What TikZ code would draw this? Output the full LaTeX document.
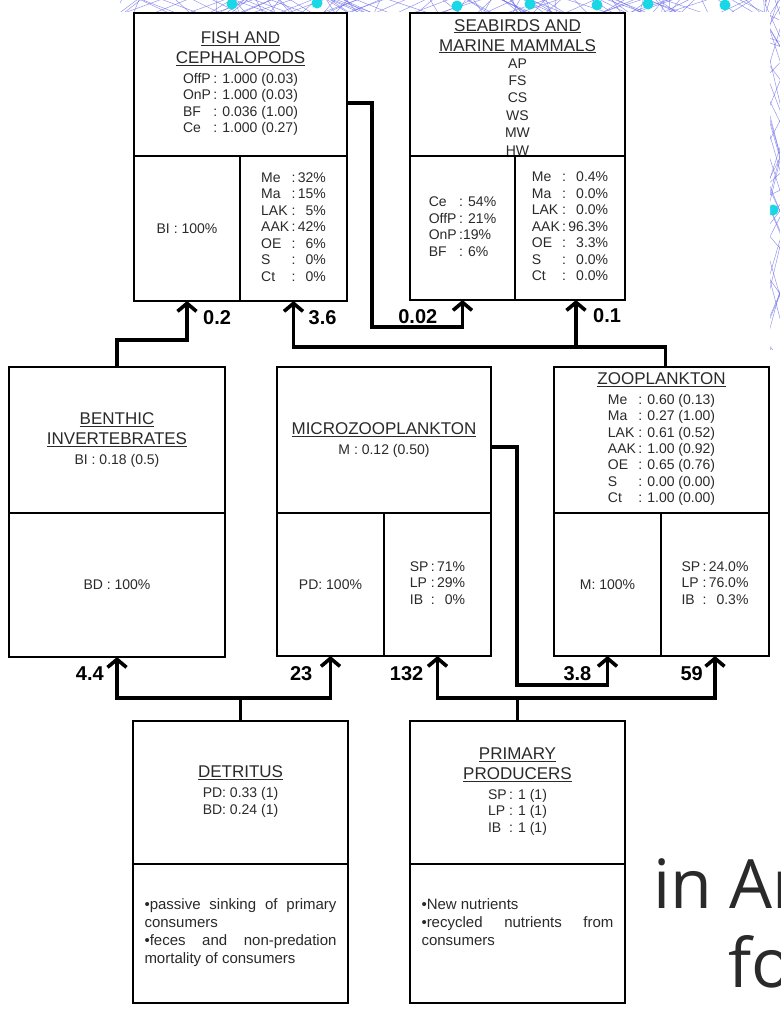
\documentclass[tikz,border=0pt]{standalone}
\usepackage{fontspec}
\setmainfont{Liberation Sans}
\newfontfamily\slidefont{Open Sans}
\usetikzlibrary{arrows.meta,positioning}
\definecolor{netblue}{HTML}{6A6AE6}
\definecolor{netcyan}{HTML}{19D8E6}
\definecolor{inkgray}{HTML}{2A2A2A}
\newcommand{\ttl}[1]{\underline{#1}}
\newcommand{\dat}{\fontsize{14}{16.5}\selectfont}
\tikzset{
  cell/.style={draw=black,line width=1.6pt,inner sep=0pt,outer sep=0pt,align=center,anchor=north west,text=inkgray,font=\fontsize{17}{20}\selectfont},
  celltxt/.style={inner sep=0pt,align=center,text=inkgray,font=\fontsize{17}{20}\selectfont},
  note/.style={text width=192pt,align=justify,inner sep=0pt,text=inkgray,font=\fontsize{15}{18}\selectfont},
  ar/.style={-{Straight Barb[length=8pt,width=19pt]},line width=3.6pt},
  flow/.style={inner sep=0pt,text=black,font=\fontsize{20}{20}\selectfont\bfseries},
  net/.style={draw=netblue,line width=0.5pt,opacity=0.7},
  netdot/.style={fill=netcyan,draw=none},
  slidetxt/.style={inner sep=0pt,text=inkgray,font=\slidefont\fontsize{68}{80}\selectfont},
}
\begin{document}
\begin{tikzpicture}[x=1pt,y=-1pt,node distance=0pt]
  \clip (0,0) rectangle (780,1015);
  \useasboundingbox (0,0) rectangle (780,1015);
  % network behind the slide
  \pgfmathsetseed{11}
  \begin{scope}
    \clip (120,0) rectangle (780,12) (770,0) rectangle (780,350);
    \foreach \i in {1,...,130}{
      \pgfmathsetmacro\xa{120+660*rnd}
      \pgfmathsetmacro\xb{\xa+80*rand}
      \draw[net] (\xa,-5) -- (\xb,20);
    }
    \foreach \i in {1,...,50}{
      \pgfmathsetmacro\ya{350*rnd}
      \pgfmathsetmacro\yb{\ya+90*rand}
      \draw[net] (765,\ya) -- (785,\yb);
    }
  \end{scope}
  \foreach \x/\y in {232/4,317/3,457/6,530/4,597/5,648/4,725/5,773/210}
    \fill[netdot] (\x,\y) circle (5.5pt);
  \fill[white] (0,12) -- (770,12) -- (770,350) -- (780,350) -- (780,1015) -- (0,1015) -- cycle;

  % fish and cephalopods
  \node[cell,minimum width=213pt,minimum height=143pt] (fishT) at (134,13)
    {\ttl{FISH AND}\\\ttl{CEPHALOPODS}\\\dat\begin{tabular}[t]{@{}l@{\,}l@{}}OffP&: 1.000 (0.03)\\OnP&: 1.000 (0.03)\\BF&: 0.036 (1.00)\\Ce&: 1.000 (0.27)\end{tabular}};
  \node[cell,minimum width=106pt,minimum height=145pt,below right=0pt of fishT.south west] (fishL) {\dat BI : 100\%};
  \node[cell,minimum width=107pt,minimum height=145pt,right=0pt of fishL] (fishR)
    {\dat\begin{tabular}{@{}l@{\,:\,}r@{}}Me&32\%\\Ma&15\%\\LAK&5\%\\AAK&42\%\\OE&6\%\\S&0\%\\Ct&0\%\end{tabular}};

  % seabirds and marine mammals
  \node[cell,minimum width=215pt,minimum height=143pt] (seabT) at (410,13) {};
  \node[celltxt,below=6pt of seabT.north] (seabTx)
    {\ttl{SEABIRDS AND}\\\ttl{MARINE MAMMALS}\\[-3pt]\fontsize{14}{17.4}\selectfont\begin{tabular}[t]{@{}c@{}}AP\\FS\\CS\\WS\\MW\\HW\end{tabular}};
  \node[cell,minimum width=105pt,minimum height=144pt,below right=0pt of seabT.south west] (seabL)
    {\dat\begin{tabular}{@{}l@{\,}l@{}}Ce&: 54\%\\OffP&: 21\%\\OnP&:19\%\\BF&: 6\%\end{tabular}};
  \node[cell,minimum width=110pt,minimum height=144pt,right=0pt of seabL] (seabR)
    {\dat\begin{tabular}{@{}l@{\,:\,}r@{}}Me&0.4\%\\Ma&0.0\%\\LAK&0.0\%\\AAK&96.3\%\\OE&3.3\%\\S&0.0\%\\Ct&0.0\%\end{tabular}};

  % benthic invertebrates
  \node[cell,minimum width=216pt,minimum height=146pt] (benT) at (9,367)
    {\ttl{BENTHIC}\\\ttl{INVERTEBRATES}\\\dat BI : 0.18 (0.5)};
  \node[cell,minimum width=216pt,minimum height=144pt,below right=0pt of benT.south west] (benB) {\dat BD : 100\%};

  % microzooplankton
  \node[cell,minimum width=214pt,minimum height=146pt] (micT) at (277,367)
    {\ttl{MICROZOOPLANKTON}\\\dat M : 0.12 (0.50)};
  \node[cell,minimum width=107pt,minimum height=143pt,below right=0pt of micT.south west] (micL) {\dat PD: 100\%};
  \node[cell,minimum width=107pt,minimum height=143pt,right=0pt of micL] (micR)
    {\dat\begin{tabular}{@{}l@{\,:\,}r@{}}SP&71\%\\LP&29\%\\IB&0\%\end{tabular}};

  % zooplankton
  \node[cell,minimum width=215pt,minimum height=146pt] (zooT) at (554,367)
    {\ttl{ZOOPLANKTON}\\\fontsize{14}{16.3}\selectfont\begin{tabular}[t]{@{}l@{\,}l@{}}Me&: 0.60 (0.13)\\Ma&: 0.27 (1.00)\\LAK&: 0.61 (0.52)\\AAK&: 1.00 (0.92)\\OE&: 0.65 (0.76)\\S&: 0.00 (0.00)\\Ct&: 1.00 (0.00)\end{tabular}};
  \node[cell,minimum width=107pt,minimum height=143pt,below right=0pt of zooT.south west] (zooL) {\dat M: 100\%};
  \node[cell,minimum width=108pt,minimum height=143pt,right=0pt of zooL] (zooR)
    {\dat\begin{tabular}{@{}l@{\,:\,}r@{}}SP&24.0\%\\LP&76.0\%\\IB&0.3\%\end{tabular}};

  % detritus
  \node[cell,minimum width=215pt,minimum height=143pt] (detT) at (133,721)
    {\ttl{DETRITUS}\\\dat\begin{tabular}[t]{@{}c@{}}PD: 0.33 (1)\\BD: 0.24 (1)\end{tabular}};
  \node[cell,minimum width=215pt,minimum height=139pt,below right=0pt of detT.south west] (detB) {};
  \node[note,below=34pt of detB.north] (detX)
    {\textbullet passive sinking of primary\linebreak consumers\\\textbullet feces and non-predation\linebreak mortality of consumers};

  % primary producers
  \node[cell,minimum width=215pt,minimum height=143pt] (prT) at (410,721)
    {\ttl{PRIMARY}\\\ttl{PRODUCERS}\\\dat\begin{tabular}[t]{@{}l@{\,}l@{}}SP&: 1 (1)\\LP&: 1 (1)\\IB&: 1 (1)\end{tabular}};
  \node[cell,minimum width=215pt,minimum height=139pt,below right=0pt of prT.south west] (prB) {};
  \node[note,below=34pt of prB.north] (prX)
    {\textbullet New nutrients\\\textbullet recycled nutrients from\linebreak consumers};

  % flows
  \coordinate (r327) at (0,327);
  \coordinate (r340) at (0,340);
  \coordinate (r347) at (0,347);
  \coordinate (r685) at (0,685);
  \coordinate (r698) at (0,698);
  \coordinate (seabIn) at ([xshift=6pt]seabR.south);
  \draw[ar] (benT.north) |- (fishL.south |- r340) -- (fishL.south);
  \draw[ar] ([xshift=4pt]zooT.north) |- (fishR.south |- r347) -- (fishR.south);
  \draw[ar] (seabIn |- r347) -- (seabIn);
  \draw[ar] ([yshift=-18.5pt]fishT.east) -- ++(25pt,0) |- (seabL.south |- r327) -- (seabL.south);
  \draw[ar] (detT.north) |- (benB.south |- r698) -- (benB.south);
  \draw[ar] (detT.north) |- (micL.south |- r698) -- (micL.south);
  \draw[ar] (prT.north) |- (micR.south |- r698) -- (micR.south);
  \draw[ar] (prT.north) |- (zooR.south |- r698) -- (zooR.south);
  \draw[ar] ([yshift=-7pt]micT.east) -- ++(26pt,0) |- (zooL.south |- r685) -- (zooL.south);

  % flow values
  \node[flow,below right=9pt and 16pt of fishL.south] (f02) {0.2};
  \node[flow,below right=9pt and 15pt of fishR.south] (f36) {3.6};
  \node[flow,below left=9pt and 25pt of seabL.south] (f002) {0.02};
  \node[flow,below right=8pt and 17pt of seabIn] (f01) {0.1};
  \node[flow,below left=10pt and 13pt of benB.south] (f44) {4.4};
  \node[flow,below left=10pt and 18pt of micL.south] (f23) {23};
  \node[flow,below left=10pt and 14pt of micR.south] (f132) {132};
  \node[flow,below left=10pt and 16pt of zooL.south] (f38) {3.8};
  \node[flow,below left=10pt and 12pt of zooR.south] (f59) {59};

  % slide text behind the figure
  \node[slidetxt,anchor=base west] (inar) at (653,908) {in Ar};
  \node[slidetxt,anchor=base west] (fo) at (728,987) {fo};
\end{tikzpicture}
\end{document}
